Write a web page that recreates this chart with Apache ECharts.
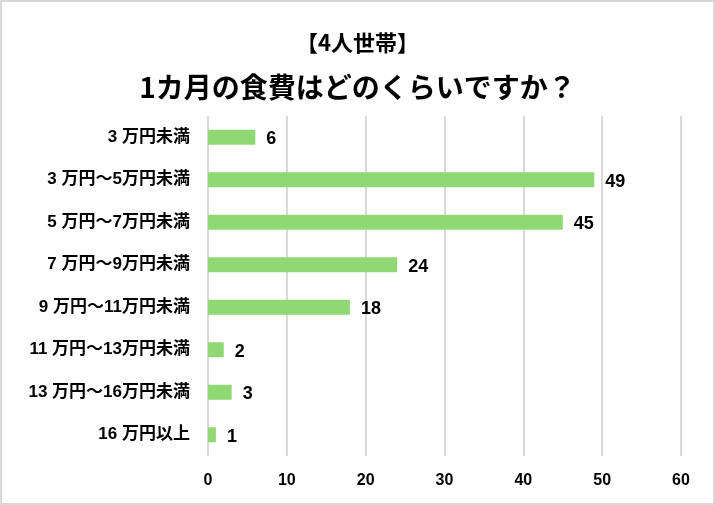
<!DOCTYPE html>
<html><head><meta charset="utf-8">
<script src="https://cdn.jsdelivr.net/npm/echarts@6/dist/echarts.min.js"></script>
<style>
html,body{margin:0;padding:0;background:#fff;}
#c{width:715px;height:505px;box-sizing:border-box;border:2px solid #d9d9d9;}
</style></head>
<body><div id="c"></div>
<script>
const categories = ['3 万円未満','3 万円～5万円未満','5 万円～7万円未満','7 万円～9万円未満','9 万円～11万円未満','11 万円～13万円未満','13 万円～16万円未満','16 万円以上'];
const values = [6, 49, 45, 24, 18, 2, 3, 1];
const titleLine1 = '【4人世帯】';
const titleLine2 = '1カ月の食費はどのくらいですか？';

const chart = echarts.init(document.getElementById('c'), null, {renderer:'canvas'});
const ff = '"Noto Sans CJK JP", "Liberation Sans", sans-serif';
const fl = '"Liberation Sans", "Noto Sans CJK JP", sans-serif';
chart.setOption({
  animation:false,
  title:[
    {text:titleLine1,left:'center',top:25,textStyle:{fontFamily:ff,fontWeight:'bold',fontSize:22,color:'#000'}},
    {text:titleLine2,left:'center',top:66,textStyle:{fontFamily:ff,fontWeight:'bold',fontSize:28,color:'#000'}}
  ],
  grid:{left:206,right:32,top:114,bottom:47,containLabel:false},
  xAxis:{type:'value',min:0,max:60,interval:10,
    axisLine:{show:false},axisTick:{show:false},
    splitLine:{lineStyle:{color:'#d9d9d9',width:2}},
    axisLabel:{margin:17,fontFamily:fl,fontWeight:'bold',fontSize:16,color:'#000'}},
  yAxis:{type:'category',data:categories,inverse:true,
    axisLine:{show:false},axisTick:{show:false},
    axisLabel:{margin:18,fontFamily:fl,fontWeight:'bold',fontSize:17,color:'#000'}},
  series:[{type:'bar',data:values,barWidth:15,
    itemStyle:{color:'#90d874'},
    label:{show:true,position:'right',distance:11,offset:[0,2],fontFamily:fl,fontWeight:'bold',fontSize:18,color:'#000'}}]
});
</script></body></html>
